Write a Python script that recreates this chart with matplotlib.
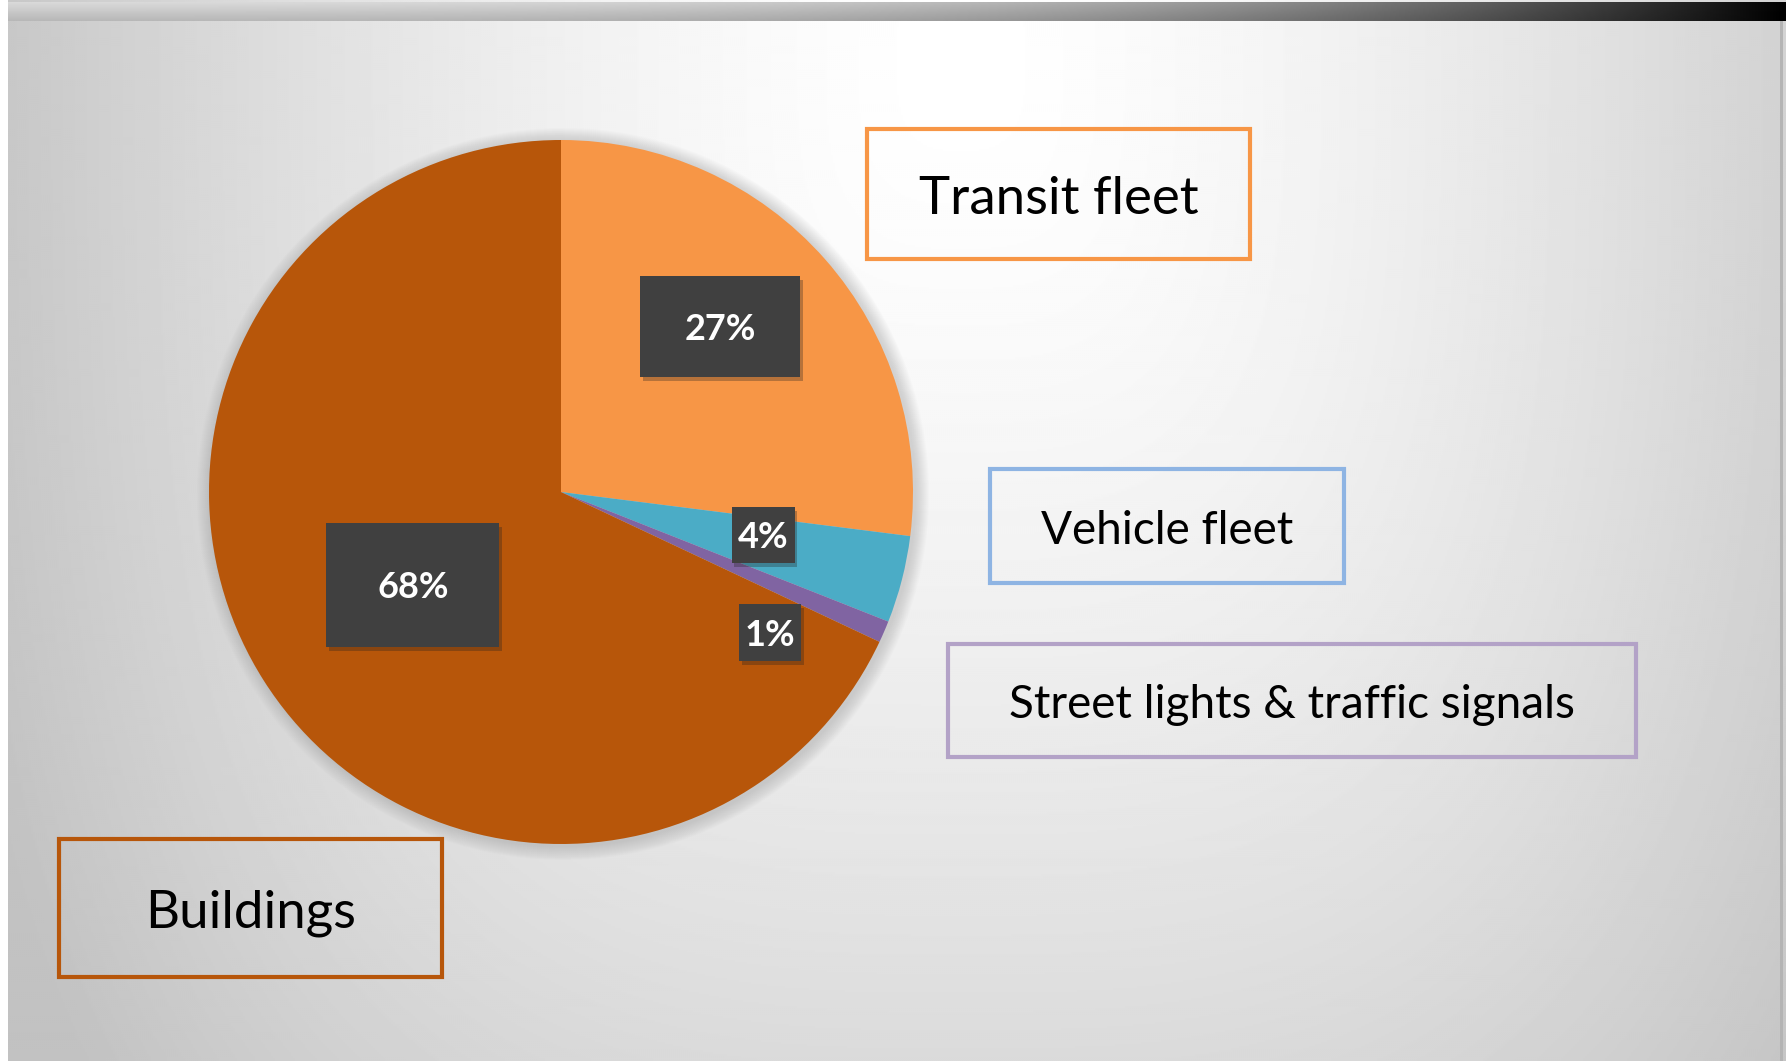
import numpy as np
import matplotlib
matplotlib.use("Agg")
import matplotlib.pyplot as plt
from matplotlib.patches import Rectangle, Circle
from matplotlib import patheffects

# slice data (clockwise from 12 o'clock)
categories = ["Transit fleet", "Vehicle fleet", "Street lights & traffic signals", "Buildings"]
shares = [27, 4, 1, 68]
pct_labels = ["27%", "4%", "1%", "68%"]

slice_colors = ["#F79646", "#4BACC6", "#8064A2", "#B7560A"]
frame_colors = ["#F79646", "#8EB4E3", "#B3A2C7", "#B7560A"]

W, H = 1786, 1061
plt.rcParams["font.family"] = ["Lato", "DejaVu Sans"]

fig = plt.figure(figsize=(W / 100, H / 100), dpi=100)
ax = fig.add_axes([0, 0, 1, 1])

# --- slide background: soft grey gradient, bright near top middle ---
yy, xx = np.mgrid[0:H:2, 0:W:2]
u = np.abs(xx - 960) / 960.0
v = np.abs(yy - 60) / 1000.0
d = (u ** 3 + (0.75 * v) ** 3) ** (1 / 3)
bg = np.clip(1 - 0.22 * d ** 1.5, 0.76, 1)
ax.imshow(bg, cmap="gray", vmin=0, vmax=1, extent=(0, W, 0, H),
          origin="upper", interpolation="bilinear", zorder=0)

# top bar: grey fading to black on the right
t = np.linspace(0, 1, 600)
bar = 0.85 * (1 - t ** 3)
bar = np.vstack([bar * (1.0 - 0.15 * k / 9) for k in range(10)])
ax.imshow(bar, cmap="gray", vmin=0, vmax=1, extent=(8, W, H - 21, H - 2),
          origin="upper", interpolation="bilinear", aspect="auto", zorder=1)
ax.add_patch(Rectangle((0, 0), 8, H, facecolor="white", lw=0, zorder=1))
ax.add_patch(Rectangle((1780, 0), 3, H - 21, facecolor="#B4B4B4", lw=0, zorder=1))

# --- pie ---
cx, cy, r = 561, H - 492, 352
for k in range(14, 0, -1):
    ax.add_patch(Circle((cx + 2, cy - 2), r + k, facecolor="#9A9A9A",
                        alpha=0.03, lw=0, zorder=2))

wedges, _ = ax.pie(shares, colors=slice_colors, startangle=90,
                   counterclock=False, center=(cx, cy), radius=r,
                   wedgeprops=dict(linewidth=0))
for w in wedges:
    w.set_zorder(3)

# percent tags: (angle deg, radius fraction, box w, box h)
tag_place = [(46.1, 0.652, 160, 101), (-12.0, 0.587, 63, 56),
             (-33.8, 0.715, 62, 57), (212.1, 0.497, 173, 124)]
for lab, (ang, rf, bw, bh) in zip(pct_labels, tag_place):
    tx = cx + rf * r * np.cos(np.radians(ang))
    ty = cy + rf * r * np.sin(np.radians(ang))
    box = Rectangle((tx - bw / 2, ty - bh / 2), bw, bh, facecolor="#404040",
                    lw=0, zorder=4)
    box.set_path_effects([patheffects.SimplePatchShadow(offset=(2, -3), alpha=0.3,
                                                        shadow_rgbFace="#202020"),
                          patheffects.Normal()])
    ax.add_patch(box)
    ax.text(tx, ty - 3, lab, color="white", fontsize=26, fontweight="bold",
            ha="center", va="center", zorder=5)

# category callouts: (x0, y0, x1, y1) from top-left, font size
callouts = [(867, 129, 1250, 259, 38), (990, 469, 1344, 583, 33),
            (948, 644, 1636, 757, 33), (59, 839, 442, 977, 38)]
for name, col, (x0, y0, x1, y1, fs) in zip(categories, frame_colors, callouts):
    ax.add_patch(Rectangle((x0, H - y1), x1 - x0, y1 - y0, facecolor="none",
                           edgecolor=col, lw=3, zorder=4))
    ax.text((x0 + x1) / 2, H - (y0 + y1) / 2 - 5, name, color="black",
            fontsize=fs, ha="center", va="center", zorder=5)

ax.set_xlim(0, W)
ax.set_ylim(0, H)
ax.set_aspect("auto")
ax.axis("off")

fig.savefig("out.png", dpi=100)
